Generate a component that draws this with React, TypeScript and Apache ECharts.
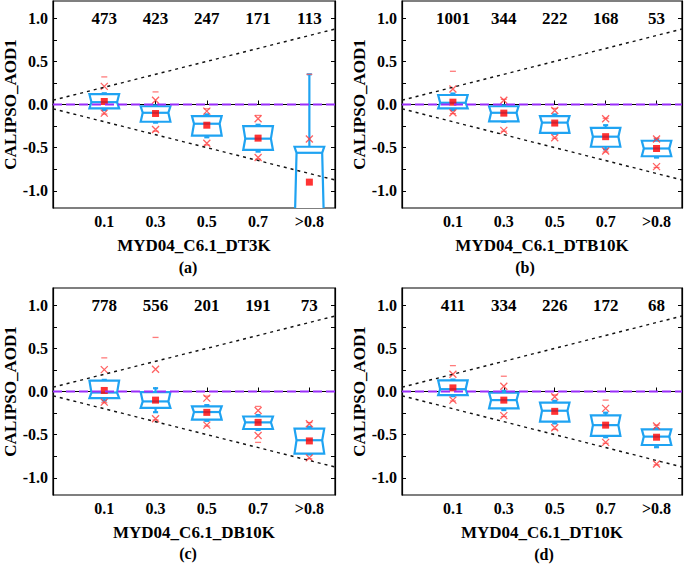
import React, { useEffect, useRef } from "react";
import * as echarts from "echarts";

const categories = ["0.1", "0.3", "0.5", "0.7", ">0.8"];
const panelTags = ["(a)", "(b)", "(c)", "(d)"];
const xTitles = ["MYD04_C6.1_DT3K", "MYD04_C6.1_DTB10K", "MYD04_C6.1_DB10K", "MYD04_C6.1_DT10K"];
const yTitle = "CALIPSO_AOD1";

// sample counts per bin
const countsA = [473, 423, 247, 171, 113];
const countsB = [1001, 344, 222, 168, 53];
const countsC = [778, 556, 201, 191, 73];
const countsD = [411, 334, 226, 172, 68];

// box stats per bin: [whiskerLow, Q1, median, Q3, whiskerHigh]
const boxA = [
  [-0.065, -0.046, 0.027, 0.12, 0.13],
  [-0.21, -0.2, -0.096, -0.02, -0.01],
  [-0.38, -0.36, -0.223, -0.135, -0.115],
  [-0.546, -0.527, -0.396, -0.25, -0.235],
  [-1.6, -1.5, -0.56, -0.49, 0.35],
];
const boxB = [
  [-0.065, -0.046, 0.02, 0.11, 0.127],
  [-0.2, -0.196, -0.096, -0.02, -0.01],
  [-0.34, -0.33, -0.21, -0.135, -0.115],
  [-0.52, -0.49, -0.373, -0.27, -0.24],
  [-0.615, -0.6, -0.51, -0.42, -0.4],
];
const boxC = [
  [-0.104, -0.077, -0.012, 0.127, 0.135],
  [-0.24, -0.19, -0.115, -0.008, 0.038],
  [-0.34, -0.327, -0.238, -0.173, -0.158],
  [-0.446, -0.435, -0.358, -0.29, -0.273],
  [-0.73, -0.72, -0.565, -0.43, -0.41],
];
const boxD = [
  [-0.054, -0.042, 0.027, 0.13, 0.138],
  [-0.215, -0.196, -0.1, -0.012, 0.008],
  [-0.37, -0.35, -0.223, -0.13, -0.108],
  [-0.53, -0.515, -0.39, -0.277, -0.246],
  [-0.646, -0.62, -0.523, -0.438, -0.427],
];

// means
const meanA = [0.035, -0.104, -0.24, -0.39, -0.9];
const meanB = [0.027, -0.1, -0.215, -0.373, -0.51];
const meanC = [0.012, -0.1, -0.242, -0.358, -0.573];
const meanD = [0.042, -0.1, -0.23, -0.39, -0.53];

// 1st and 99th percentiles
const p1A = [-0.1, -0.29, -0.45, -0.615, -1.45];
const p99A = [0.21, 0.05, -0.077, -0.165, -0.4];
const p1B = [-0.096, -0.3, -0.385, -0.54, -0.72];
const p99B = [0.18, 0.05, -0.07, -0.165, -0.4];
const p1C = [-0.123, -0.315, -0.39, -0.51, -0.77];
const p99C = [0.254, 0.258, -0.077, -0.22, -0.373];
const p1D = [-0.1, -0.28, -0.42, -0.59, -0.84];
const p99D = [0.2, 0.06, -0.06, -0.196, -0.4];

// min and max
const minA = [-0.11, -0.31, -0.47, -0.635, -1.6];
const maxA = [0.32, 0.146, -0.05, -0.127, 0.35];
const minB = [-0.105, -0.31, -0.39, -0.55, -0.73];
const maxB = [0.385, 0.06, -0.045, -0.16, -0.39];
const minC = [-0.13, -0.33, -0.4, -0.59, -0.78];
const maxC = [0.39, 0.627, -0.054, -0.173, -0.36];
const minD = [-0.11, -0.29, -0.44, -0.6, -0.85];
const maxD = [0.3, 0.177, -0.04, -0.1, -0.39];

// expected-error envelope lines (x in bin-position units) and zero line
const eeUpper = [[0, 0.05], [5.5, 0.875]];
const eeLower = [[0, -0.05], [5.5, -0.875]];
const zeroLine = [[0, 0], [5.5, 0]];

const yLabelValues = [-1, -0.5, 0, 0.5, 1];
const yTickValues = [-1, -0.75, -0.5, -0.25, 0, 0.25, 0.5, 0.75, 1];
const countRowValue = 1.0;

const panels = [
  { counts: countsA, box: boxA, mean: meanA, p1: p1A, p99: p99A, min: minA, max: maxA },
  { counts: countsB, box: boxB, mean: meanB, p1: p1B, p99: p99B, min: minB, max: maxB },
  { counts: countsC, box: boxC, mean: meanC, p1: p1C, p99: p99C, min: minC, max: maxC },
  { counts: countsD, box: boxD, mean: meanD, p1: p1D, p99: p99D, min: minD, max: maxD },
];

const FONT = "Liberation Serif";
const BOX = "#1FA3F2";
const GRID_W = 282;
const GRID_H = 207;
const gridPos = [
  { left: 53, top: 1 },
  { left: 402, top: 1 },
  { left: 53, top: 288 },
  { left: 402, top: 288 },
];
const tagPos = [
  [188, 267],
  [525, 267],
  [188, 553],
  [544, 554],
];

const X_SHAPE = "path://M0,0L10,10M10,0L0,10";

function buildOption() {
  const grid: any[] = [];
  const xAxis: any[] = [];
  const yAxis: any[] = [];
  const series: any[] = [];
  const graphic: any[] = [];

  panels.forEach((p, i) => {
    grid.push({
      left: gridPos[i].left,
      top: gridPos[i].top,
      width: GRID_W,
      height: GRID_H,
      show: true,
      borderColor: "#000",
      borderWidth: 1.2,
      backgroundColor: "transparent",
    });
    xAxis.push({
      gridIndex: i,
      type: "value",
      min: 0,
      max: 5.5,
      interval: 1,
      name: xTitles[i],
      nameLocation: "middle",
      nameGap: 29,
      nameTextStyle: { fontFamily: FONT, fontWeight: "bold", fontSize: 17, color: "#000" },
      axisLine: { show: true, lineStyle: { color: "#000", width: 1.2 } },
      axisTick: { show: true, inside: true, length: 4, lineStyle: { color: "#000" } },
      axisLabel: {
        show: true,
        margin: 5,
        fontFamily: FONT,
        fontWeight: "bold",
        fontSize: 16,
        color: "#000",
        formatter: (v: number) => (v >= 1 && v <= 5 ? categories[Math.round(v) - 1] : ""),
      },
      splitLine: { show: false },
    });
    const yCommon = {
      gridIndex: i,
      type: "value",
      min: -1.2,
      max: 1.2,
      splitLine: { show: false },
      axisLine: { show: true, lineStyle: { color: "#000", width: 1.2 } },
      axisTick: { show: true, inside: true, length: 4, customValues: yTickValues, lineStyle: { color: "#000" } },
    };
    yAxis.push({
      ...yCommon,
      position: "left",
      name: yTitle,
      nameLocation: "middle",
      nameGap: 32,
      nameTextStyle: { fontFamily: FONT, fontWeight: "bold", fontSize: 17, color: "#000" },
      axisLabel: {
        show: true,
        margin: 5,
        customValues: yLabelValues,
        fontFamily: FONT,
        fontWeight: "bold",
        fontSize: 16,
        color: "#000",
        formatter: (v: number) => v.toFixed(1),
      },
    });
    yAxis.push({
      ...yCommon,
      position: "right",
      axisLabel: { show: false },
    });
    const yi = 2 * i;

    // envelope lines
    [eeUpper, eeLower].forEach((d) =>
      series.push({
        type: "line",
        xAxisIndex: i,
        yAxisIndex: yi,
        data: d,
        symbol: "none",
        silent: true,
        lineStyle: { color: "#111", width: 1.4, type: [3, 4] },
      })
    );

    // notched boxes
    series.push({
      type: "custom",
      xAxisIndex: i,
      yAxisIndex: yi,
      clip: true,
      silent: true,
      data: p.box.map((b, k) => [k + 1, ...b]),
      encode: { x: 0, y: [1, 2, 3, 4, 5] },
      renderItem: (params: any, api: any) => {
        const x = api.value(0);
        const c = (v: number) => api.coord([x, v]);
        const unit = api.size([1, 0])[0];
        const hw = unit * 0.29;
        const nw = unit * 0.25;
        const cw = unit * 0.05;
        const cx = c(api.value(3))[0];
        const ywl = c(api.value(1))[1];
        const yq1 = c(api.value(2))[1];
        const ymd = c(api.value(3))[1];
        const yq3 = c(api.value(4))[1];
        const ywh = c(api.value(5))[1];
        const st = { stroke: BOX, fill: "none", lineWidth: 2.2 };
        return {
          type: "group",
          children: [
            { type: "line", shape: { x1: cx, y1: yq3, x2: cx, y2: ywh }, style: st },
            { type: "line", shape: { x1: cx, y1: yq1, x2: cx, y2: ywl }, style: st },
            { type: "line", shape: { x1: cx - cw, y1: ywh, x2: cx + cw, y2: ywh }, style: st },
            { type: "line", shape: { x1: cx - cw, y1: ywl, x2: cx + cw, y2: ywl }, style: st },
            {
              type: "polygon",
              shape: {
                points: [
                  [cx - hw, yq3],
                  [cx + hw, yq3],
                  [cx + nw, ymd],
                  [cx + hw, yq1],
                  [cx - hw, yq1],
                  [cx - nw, ymd],
                ],
              },
              style: { stroke: BOX, fill: "#fff", lineWidth: 2.2 },
            },
            { type: "line", shape: { x1: cx - nw, y1: ymd, x2: cx + nw, y2: ymd }, style: st },
          ],
        };
      },
    });

    // zero line
    series.push({
      type: "line",
      xAxisIndex: i,
      yAxisIndex: yi,
      data: zeroLine,
      symbol: "none",
      silent: true,
      lineStyle: { color: "#9A2EFA", width: 2.2, type: [9, 4] },
    });

    // min / max dashes
    series.push({
      type: "scatter",
      xAxisIndex: i,
      yAxisIndex: yi,
      symbol: "rect",
      symbolSize: [6, 1.3],
      itemStyle: { color: "#FF5A5A" },
      data: [...p.min.map((v, k) => [k + 1, v]), ...p.max.map((v, k) => [k + 1, v])],
    });
    // 1% / 99% crosses
    series.push({
      type: "scatter",
      xAxisIndex: i,
      yAxisIndex: yi,
      symbol: X_SHAPE,
      symbolSize: 7,
      itemStyle: { color: "transparent", borderColor: "#FF3B3B", borderWidth: 1.3 },
      data: [...p.p1.map((v, k) => [k + 1, v]), ...p.p99.map((v, k) => [k + 1, v])],
    });
    // means
    series.push({
      type: "scatter",
      xAxisIndex: i,
      yAxisIndex: yi,
      symbol: "rect",
      symbolSize: 7,
      itemStyle: { color: "#FF0000" },
      data: p.mean.map((v, k) => [k + 1, v]),
    });
    // count labels
    series.push({
      type: "custom",
      xAxisIndex: i,
      yAxisIndex: yi,
      silent: true,
      data: p.counts.map((c, k) => [k + 1, countRowValue, c]),
      encode: { x: 0, y: 1 },
      renderItem: (params: any, api: any) => {
        const pt = api.coord([api.value(0), api.value(1)]);
        return {
          type: "text",
          x: pt[0],
          y: pt[1],
          style: {
            text: String(api.value(2)),
            align: "center",
            verticalAlign: "middle",
            fontFamily: FONT,
            fontWeight: "bold",
            fontSize: 17,
            fill: "#000",
          },
        };
      },
    });

    graphic.push({
      type: "text",
      x: tagPos[i][0],
      y: tagPos[i][1],
      style: {
        text: panelTags[i],
        align: "center",
        verticalAlign: "middle",
        fontFamily: FONT,
        fontWeight: "bold",
        fontSize: 16,
        fill: "#000",
      },
    });
  });

  return {
    animation: false,
    backgroundColor: "#fff",
    grid,
    xAxis,
    yAxis,
    series,
    graphic,
  };
}

export default function App() {
  const ref = useRef<HTMLDivElement>(null);
  useEffect(() => {
    if (!ref.current) return;
    const chart = echarts.init(ref.current, null, { renderer: "svg" });
    chart.setOption(buildOption());
    return () => chart.dispose();
  }, []);
  return (
    <div
      ref={ref}
      style={{ position: "absolute", left: 0, top: 0, width: 685, height: 565, background: "#fff" }}
    />
  );
}
